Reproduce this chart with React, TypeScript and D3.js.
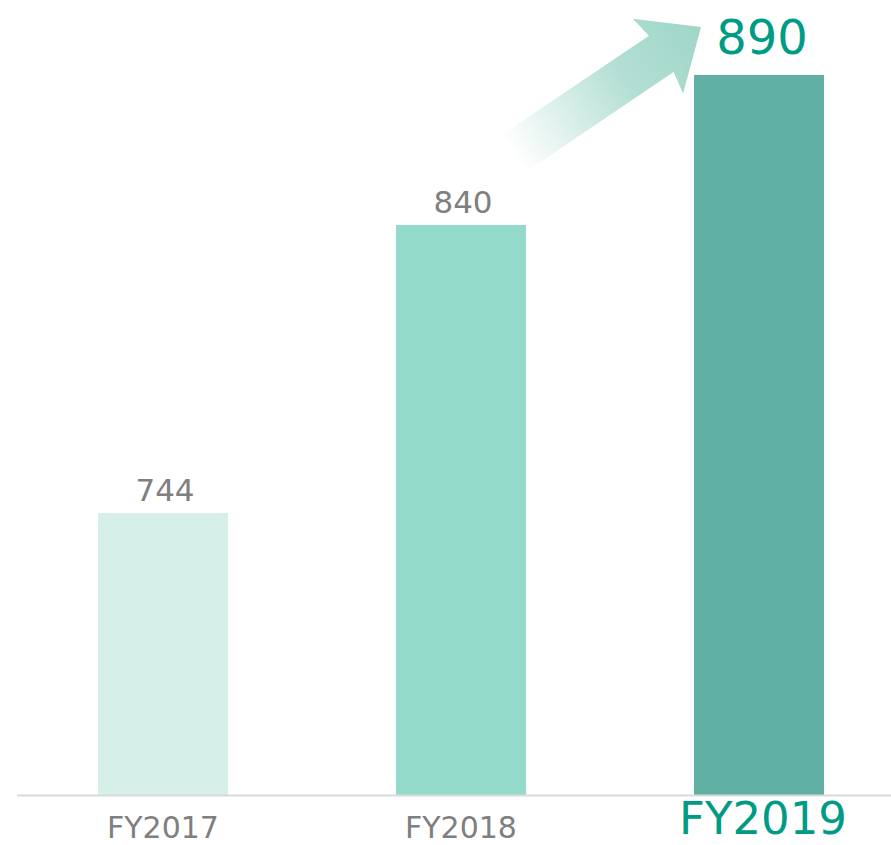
import React from "react";
import * as d3 from "d3";

const categories = ["FY2017", "FY2018", "FY2019"];
const values = [744, 840, 890];
const barColors = ["#D6F0E9", "#94DACB", "#5FAFA2"];
const yDomain = [650, 900];

const W = 891;
const H = 845;
const baseY = 795;

export default function App() {
  const x = d3
    .scaleBand<string>()
    .domain(categories)
    .range([14, 908])
    .paddingInner(0.564)
    .paddingOuter(0.282);
  const y = d3.scaleLinear().domain(yDomain).range([baseY, baseY - 750]);
  const bw = x.bandwidth();
  const last = categories.length - 1;

  // arrow from above the FY2018 bar towards the FY2019 label
  const tailX = (x(categories[1]) as number) + bw * 0.9;
  const tailY = y(values[1]) - 71;
  const tipX = (x(categories[2]) as number) + 7;
  const tipY = y(values[2]) - 48;
  const ang = Math.atan2(tipY - tailY, tipX - tailX);
  const len = Math.hypot(tipX - tailX, tipY - tailY);
  const shaftHalf = 22;
  const headHalf = 45;
  const headLen = 48;
  const pts: [number, number][] = [
    [0, -shaftHalf],
    [len - headLen, -shaftHalf],
    [len - headLen - 4, -headHalf],
    [len, 0],
    [len - headLen - 4, headHalf],
    [len - headLen, shaftHalf],
    [0, shaftHalf],
  ];
  const ca = Math.cos(ang);
  const sa = Math.sin(ang);
  const arrowPts = pts.map(([u, v]) => [tailX + u * ca - v * sa, tailY + u * sa + v * ca]);
  const arrowPath = d3.line()(arrowPts as [number, number][]) + "Z";

  return (
    <svg
      width={W}
      height={H}
      style={{ position: "fixed", left: 0, top: 0, background: "#fff" }}
      fontFamily="'DejaVu Sans', Verdana, sans-serif"
    >
      <defs>
        <linearGradient
          id="arrowGrad"
          gradientUnits="userSpaceOnUse"
          x1={tailX}
          y1={tailY}
          x2={tipX}
          y2={tipY}
        >
          <stop offset="0" stopColor="#9FD6C8" stopOpacity={0} />
          <stop offset="0.6" stopColor="#9FD6C8" stopOpacity={0.8} />
          <stop offset="1" stopColor="#9FD6C8" stopOpacity={1} />
        </linearGradient>
      </defs>
      <path d={arrowPath} fill="url(#arrowGrad)" />
      {categories.map((c, i) => (
        <rect
          key={c}
          x={x(c)}
          y={y(values[i])}
          width={bw}
          height={baseY - y(values[i])}
          fill={barColors[i]}
        />
      ))}
      <line x1={17} x2={W} y1={baseY + 0.5} y2={baseY + 0.5} stroke="#D9D9D9" strokeWidth={2} />
      {categories.map((c, i) => (
        <text
          key={"v" + c}
          x={(x(c) as number) + bw / 2 + (i === last ? 3 : 2)}
          y={y(values[i]) - (i === last ? 21 : 12)}
          textAnchor="middle"
          fontSize={i === last ? 48 : 31}
          fill={i === last ? "#009B84" : "#7F7F7F"}
        >
          {values[i]}
        </text>
      ))}
      {categories.map((c, i) => (
        <text
          key={"l" + c}
          x={(x(c) as number) + bw / 2 + (i === last ? 4 : 0)}
          y={i === last ? 834 : 838}
          textAnchor="middle"
          fontSize={i === last ? 45 : 30}
          fill={i === last ? "#009B84" : "#7F7F7F"}
        >
          {c}
        </text>
      ))}
    </svg>
  );
}
